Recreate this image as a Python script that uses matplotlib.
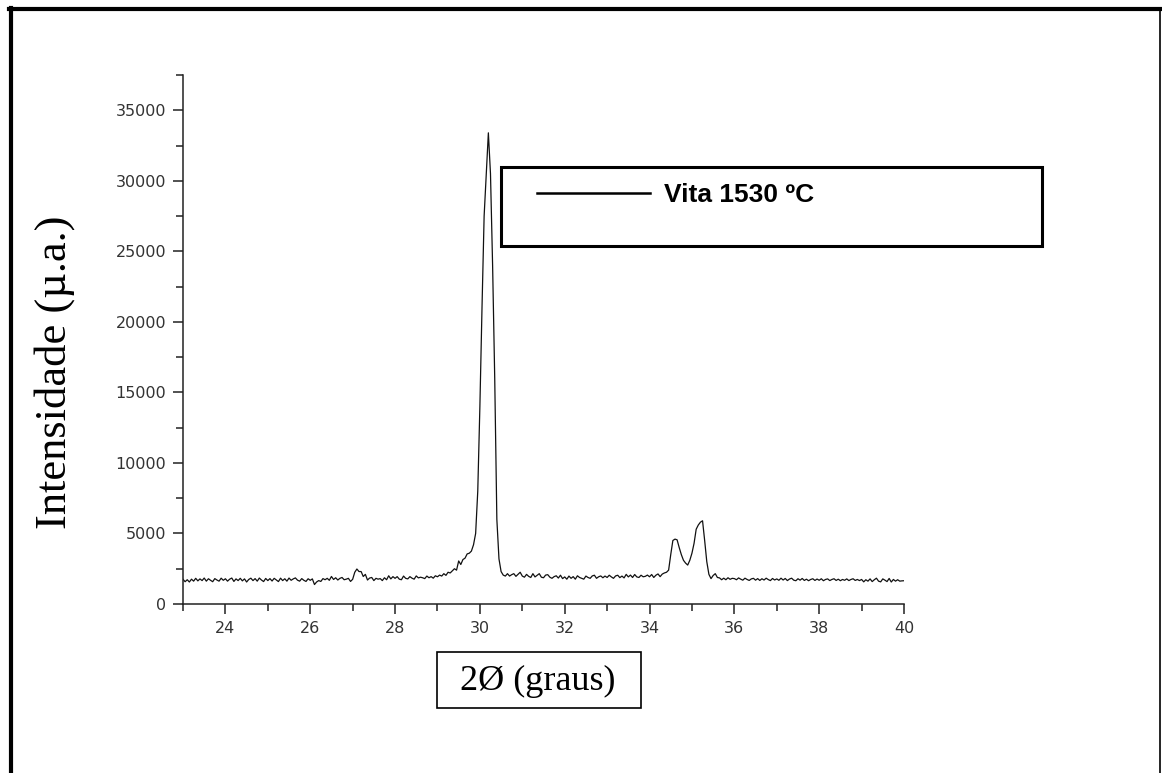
import numpy as np
import matplotlib
matplotlib.use("Agg")
import matplotlib.pyplot as plt
from matplotlib.patches import Rectangle
from matplotlib.lines import Line2D

W, H = 1162, 773

# scan: 2theta from 23 to 40 in steps of 0.05
theta_start, theta_end = 23.0, 40.0
intensity = [
    # 23
    1750, 1580, 1720, 1560, 1760, 1620, 1820, 1640, 1780, 1660, 1840, 1620, 1790, 1680, 1580, 1800, 1700, 1620, 1830, 1680,
    # 24
    1790, 1620, 1760, 1840, 1600, 1780, 1660, 1820, 1640, 1780, 1560, 1740, 1830, 1660, 1800, 1620, 1840, 1700, 1590, 1810,
    # 25
    1660, 1800, 1630, 1820, 1700, 1590, 1830, 1660, 1790, 1620, 1840, 1680, 1780, 1850, 1690, 1620, 1800, 1680, 1600, 1790,
    # 26
    1680, 1780, 1380, 1560, 1660, 1600, 1800, 1720, 1820, 1680, 1950, 1740, 1860, 1700, 1820, 1880, 1720, 1760, 1820, 1600,
    # 27
    1750, 2250, 2480, 2300, 2300, 1950, 2100, 1700, 1840, 1880, 1660, 1820, 1760, 1800, 1660, 1860, 1720, 2000, 1780, 1940,
    # 28
    1820, 1940, 1760, 1720, 1980, 1820, 1780, 1940, 1830, 1760, 1990, 1850, 1900, 1860, 1800, 1980, 1860, 1940, 1830, 2000,
    # 29
    1930, 2050, 1980, 2150, 2030, 2250, 2200, 2350, 2500, 2400, 3050, 2800, 3150, 3250, 3550, 3600, 3750, 4200, 5000, 8000,
    # 30
    14000, 21000, 27500, 30500, 33400, 30500, 24000, 16000, 6000, 3200, 2300, 2050, 1980, 2150, 1980, 2080, 2150, 1960, 2100, 2250,
    # 31
    1980, 1900, 2100, 1960, 1880, 2150, 1920, 2040, 2150, 1900, 1860, 2050, 2080, 1900, 1820, 1940, 2000, 1840, 2040, 1800,
    # 32
    1920, 1760, 1980, 1820, 1940, 1760, 2000, 1880, 1820, 1760, 1980, 1880, 1820, 1990, 2040, 1820, 1930, 1990, 1860, 1980,
    # 33
    1880, 2040, 1920, 1820, 1990, 2040, 1870, 1980, 1850, 2100, 1920, 2050, 1880, 2090, 1920, 1880, 2040, 1930, 1960, 2050,
    # 34
    1930, 2090, 1880, 2040, 2130, 1940, 2120, 2200, 2250, 2400, 3500, 4500, 4600, 4550, 4000, 3500, 3100, 2900, 2760, 3100,
    # 35
    3600, 4300, 5300, 5600, 5800, 5900, 4500, 3000, 2100, 1800, 2020, 2150, 1880, 1850, 1720, 1830, 1720, 1860, 1750, 1820,
    # 36
    1800, 1720, 1850, 1760, 1690, 1830, 1740, 1670, 1780, 1820, 1690, 1800, 1670, 1790, 1700, 1830, 1730, 1660, 1810, 1700,
    # 37
    1780, 1680, 1830, 1700, 1810, 1660, 1770, 1830, 1690, 1650, 1790, 1690, 1810, 1670, 1760, 1650, 1740, 1790, 1670, 1770,
    # 38
    1680, 1790, 1650, 1740, 1780, 1660, 1740, 1790, 1670, 1760, 1650, 1740, 1680, 1780, 1660, 1740, 1790, 1670, 1740, 1660,
    # 39
    1740, 1570, 1720, 1620, 1780, 1590, 1720, 1830, 1620, 1570, 1780, 1690, 1590, 1810, 1560, 1740, 1620, 1720, 1620, 1640,
    # 40
    1650,
]
two_theta = np.linspace(theta_start, theta_end, len(intensity))
series_label = "Vita 1530 ºC"
x_ticks = [24, 26, 28, 30, 32, 34, 36, 38, 40]
y_ticks = [0, 5000, 10000, 15000, 20000, 25000, 30000, 35000]


def fx(x):
    return x / W


def fy(y):
    return 1 - y / H


fig = plt.figure(figsize=(W / 100, H / 100), dpi=100)
ax = fig.add_axes([fx(183), fy(604), (904 - 183) / W, (604 - 75) / H])

line, = ax.plot(two_theta, intensity, color="#111111", lw=0.9, label=series_label)

ax.set_xlim(23, 40)
ax.set_ylim(0, 37500)
ax.set_xticks(x_ticks)
ax.set_xticks(np.arange(23, 40.1, 1), minor=True)
ax.set_yticks(y_ticks)
ax.set_yticks(np.arange(0, 37501, 2500), minor=True)
for s in ["top", "right"]:
    ax.spines[s].set_visible(False)
for s in ["left", "bottom"]:
    ax.spines[s].set_linewidth(1.1)
    ax.spines[s].set_color("#222222")
ax.tick_params(which="major", direction="out", length=7, width=1.1, color="#222222",
               labelsize=11.5, labelcolor="#333333", pad=5)
ax.tick_params(which="minor", direction="out", length=5, width=1.1, color="#222222")

# axis labels
ax.set_xlabel("2Ø (graus)", fontsize=26, family="Liberation Serif")
ax.xaxis.set_label_coords((538 - 183) / (904 - 183), -(681 - 604) / (604 - 75))
ax.xaxis.label.set_verticalalignment("center")
ax.set_ylabel("Intensidade (µ.a.)", fontsize=32, family="Liberation Serif")
ax.yaxis.set_label_coords(-(183 - 55) / (904 - 183), (604 - 372) / (604 - 75))
ax.yaxis.label.set_verticalalignment("center")

# box around x label
fig.add_artist(Rectangle((fx(437), fy(708)), (641 - 437) / W, (708 - 652) / H,
                         transform=fig.transFigure, fill=False, lw=1.2, ec="black"))

# legend box
fig.add_artist(Rectangle((fx(501), fy(246)), (1042 - 501) / W, (246 - 167) / H,
                         transform=fig.transFigure, fill=False, lw=2.2, ec="black"))
leg = ax.legend(loc="center left", bbox_to_anchor=(fx(537), fy(195)),
                bbox_transform=fig.transFigure, frameon=False, borderpad=0,
                borderaxespad=0, handlelength=4.3, handletextpad=0.5,
                prop={"family": "Liberation Sans", "weight": "bold", "size": 19})
for h in leg.get_lines():
    h.set_linewidth(1.8)
    h.set_color("black")

# outer frame
fig.add_artist(Line2D([fx(9), fx(1162)], [fy(9), fy(9)], transform=fig.transFigure,
                      color="black", lw=3))
fig.add_artist(Line2D([fx(11), fx(11)], [fy(7.5), fy(773)], transform=fig.transFigure,
                      color="black", lw=3))
fig.add_artist(Line2D([fx(1160), fx(1160)], [fy(7.5), fy(773)], transform=fig.transFigure,
                      color="black", lw=1.2))

fig.savefig("out.png", dpi=100)
